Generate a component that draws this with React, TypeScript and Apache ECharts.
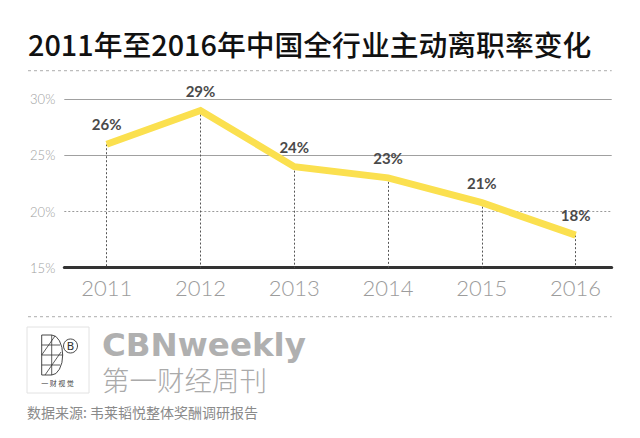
import React, { useEffect, useRef } from "react";
import * as echarts from "echarts";

const TITLE = "2011年至2016年中国全行业主动离职率变化";
const YEARS = [2011, 2012, 2013, 2014, 2015, 2016];
const RATES = [26, 29, 24, 23, 20.8, 17.9];
const Y_TICKS = [15, 20, 25, 30];
const BRAND_EN = "CBNweekly";
const BRAND_CN = "第一财经周刊";
const LOGO_CAPTION = "一 财 视 觉";
const SOURCE = "数据来源: 韦莱韬悦整体奖酬调研报告";

const Y_MIN = Y_TICKS[0];
const Y_MAX = Y_TICKS[Y_TICKS.length - 1];

echarts.graphic.registerShape(
  "logoD",
  echarts.graphic.extendPath("M0 0 L10 0 A11 20 0 0 1 10 40 L0 40 Z", {}) as any
);

const THIN_FONT = "'Liberation Sans Narrow', Lato, 'Noto Sans', sans-serif";

export default function App() {
  const ref = useRef<HTMLDivElement>(null);
  useEffect(() => {
    document.body.style.margin = "0";
    const chart = echarts.init(ref.current!, null, { renderer: "svg" });
    const hLines = Y_TICKS.filter((t) => t !== Y_MIN).map((t) => ({
      yAxis: t,
      lineStyle: {
        color: t === 20 ? "#9a9a9a" : "#a0a0a0",
        width: 1.2,
        type: t === 20 ? [2, 2] : "solid",
      },
    }));
    const drops = YEARS.map((y, i) => [
      { coord: [y, RATES[i]] },
      { coord: [y, Y_MIN], lineStyle: { color: "#555", width: 1, type: [2, 2] } },
    ]);
    const dashed = { stroke: "#bdbdbd", lineWidth: 1.2, lineDash: [3, 3] };
    const logoLine = { stroke: "#333", lineWidth: 0.8 };
    chart.setOption({
      animation: false,
      backgroundColor: "#ffffff",
      grid: { left: 64.3, right: 640 - 611.7, top: 99.3, bottom: 438 - 267.7 },
      xAxis: {
        type: "value",
        min: 2010.548,
        max: 2016.385,
        axisLine: { show: true, onZero: false, lineStyle: { color: "#333", width: 3 } },
        axisTick: { show: false },
        splitLine: { show: false },
        axisLabel: {
          customValues: YEARS,
          formatter: (v: number) => String(v),
          fontFamily: THIN_FONT,
          fontWeight: 300,
          fontSize: 22,
          color: "#9c9c9c",
          margin: 9,
        },
      },
      yAxis: {
        type: "value",
        min: Y_MIN,
        max: Y_MAX,
        interval: 5,
        axisLine: { show: false },
        axisTick: { show: false },
        splitLine: { show: false },
        axisLabel: {
          formatter: (v: number) => v + "%",
          fontFamily: THIN_FONT,
          fontWeight: 300,
          fontSize: 13,
          color: "#a0a0a0",
          margin: 9,
        },
      },
      series: [
        {
          type: "line",
          data: YEARS.map((y, i) => [y, RATES[i]]),
          symbol: "circle",
          symbolSize: 1,
          itemStyle: { color: "#FBE04F" },
          lineStyle: { color: "#FBE04F", width: 7, join: "miter" },
          z: 5,
          label: {
            show: true,
            position: "top",
            distance: 12,
            formatter: (p: any) => Math.round(p.value[1]) + "%",
            fontFamily: "Lato",
            fontWeight: "bold",
            fontSize: 15,
            color: "#4a4a4a",
          },
          markLine: {
            silent: true,
            symbol: ["none", "none"],
            label: { show: false },
            z: 1,
            data: [...hLines, ...drops],
          },
        },
      ],
      graphic: [
        {
          type: "text",
          x: 28,
          y: 43,
          style: {
            text: TITLE,
            fontFamily: "Noto Sans CJK SC",
            fontSize: 28.8,
            fontWeight: 500,
            fill: "#111",
            verticalAlign: "middle",
            lineHeight: 30,
          },
        },
        { type: "line", shape: { x1: 28, y1: 70.7, x2: 611.7, y2: 70.7 }, style: dashed },
        { type: "line", shape: { x1: 28, y1: 316.7, x2: 611.7, y2: 316.7 }, style: dashed },
        {
          type: "rect",
          shape: { x: 27, y: 327, width: 62, height: 66 },
          style: { fill: "none", stroke: "#e2e2e2", lineWidth: 1 },
        },
        {
          type: "logoD",
          x: 41.7,
          y: 335,
          style: { fill: "none", stroke: "#333", lineWidth: 0.9 },
        },
        { type: "line", shape: { x1: 41.7, y1: 355, x2: 62.7, y2: 355 }, style: logoLine },
        { type: "line", shape: { x1: 41.7, y1: 345, x2: 60, y2: 345 }, style: logoLine },
        { type: "line", shape: { x1: 41.7, y1: 365, x2: 60, y2: 365 }, style: logoLine },
        { type: "line", shape: { x1: 51.7, y1: 335, x2: 51.7, y2: 375 }, style: logoLine },
        { type: "line", shape: { x1: 41.7, y1: 355, x2: 55, y2: 336 }, style: logoLine },
        { type: "line", shape: { x1: 45, y1: 375, x2: 61, y2: 352 }, style: logoLine },
        {
          type: "circle",
          shape: { cx: 70.5, cy: 346, r: 7 },
          style: { fill: "#fff", stroke: "#333", lineWidth: 0.9 },
        },
        {
          type: "text",
          x: 70.5,
          y: 346,
          style: {
            text: "B",
            fontFamily: "DejaVu Sans",
            fontSize: 11,
            fill: "#333",
            align: "center",
            verticalAlign: "middle",
          },
        },
        {
          type: "text",
          x: 57.5,
          y: 383,
          style: {
            text: LOGO_CAPTION,
            fontFamily: "Noto Sans CJK SC",
            fontSize: 7,
            fill: "#444",
            align: "center",
            verticalAlign: "middle",
          },
        },
        {
          type: "text",
          x: 102,
          y: 344.5,
          style: {
            text: BRAND_EN,
            fontFamily: "DejaVu Sans",
            fontWeight: "bold",
            fontSize: 32.5,
            fill: "#b0b0b0",
            verticalAlign: "middle",
            lineHeight: 28,
          },
        },
        {
          type: "text",
          x: 102,
          y: 379,
          style: {
            text: BRAND_CN,
            fontFamily: "Noto Sans CJK SC",
            fontWeight: 300,
            fontSize: 27.5,
            fill: "#aaaaaa",
            verticalAlign: "middle",
            lineHeight: 26,
          },
        },
        {
          type: "text",
          x: 27,
          y: 411.5,
          style: {
            text: SOURCE,
            fontFamily: "Noto Sans CJK SC",
            fontSize: 14,
            fill: "#8a8a8a",
            verticalAlign: "middle",
          },
        },
      ],
    });
    return () => chart.dispose();
  }, []);
  return <div ref={ref} style={{ width: 640, height: 438 }} />;
}
